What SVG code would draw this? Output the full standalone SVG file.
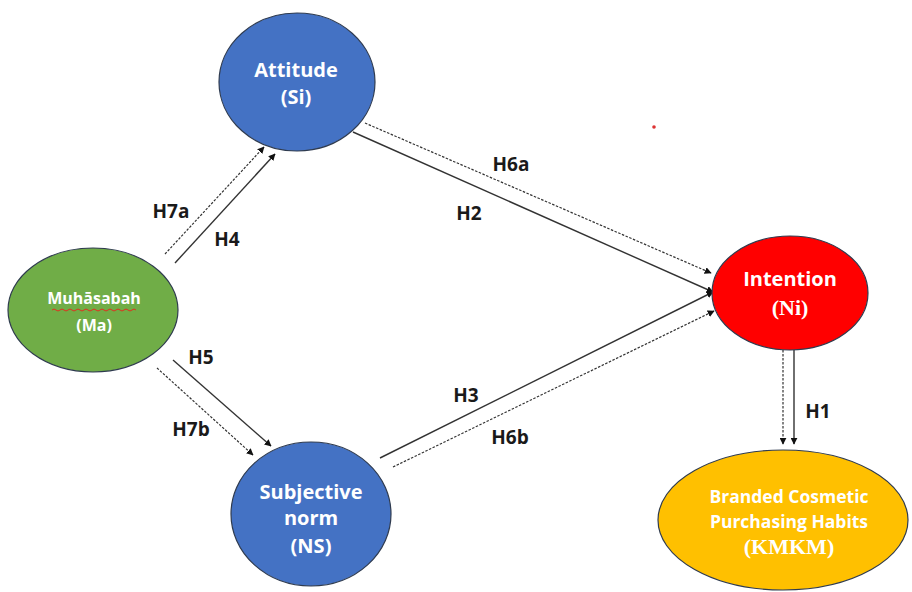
<svg xmlns="http://www.w3.org/2000/svg" width="912" height="592" viewBox="0 0 912 592">
<defs>
<marker id="ah" viewBox="0 0 10 10" refX="9" refY="5" markerWidth="7" markerHeight="7" markerUnits="userSpaceOnUse" orient="auto">
<path d="M0,0 L10,5 L0,10 z" fill="#111"/>
</marker>
</defs>
<style>
.node{stroke:#2f3b4f;stroke-width:1.2}
.nt{font-family:"Open Sans","Liberation Sans",sans-serif;font-weight:bold;fill:#fff;text-anchor:middle}
.nts{font-family:"Liberation Serif",serif;font-weight:bold;fill:#fff;text-anchor:middle}
.lbl{font-family:"Open Sans","Liberation Sans",sans-serif;font-weight:bold;font-size:19px;fill:#1a1a1a;text-anchor:middle}
.solid{stroke:#333;stroke-width:1.4;fill:none;marker-end:url(#ah)}
.dash{stroke:#333;stroke-width:1.2;fill:none;stroke-dasharray:2.5 1.5;marker-end:url(#ah)}
</style>
<rect width="912" height="592" fill="#fff"/>
<g id="connectors">
<line class="dash" x1="165" y1="254" x2="264" y2="147"/>
<line class="solid" x1="175" y1="263" x2="275" y2="154"/>
<line class="solid" x1="173" y1="360" x2="271" y2="446"/>
<line class="dash" x1="157" y1="368" x2="253" y2="455"/>
<line class="dash" x1="365" y1="123" x2="711" y2="273"/>
<line class="solid" x1="353" y1="132" x2="713" y2="292"/>
<line class="solid" x1="380" y1="458" x2="713" y2="292"/>
<line class="dash" x1="393" y1="467" x2="714" y2="311"/>
<line class="dash" x1="783" y1="350" x2="783" y2="444"/>
<line class="solid" x1="794" y1="350" x2="794" y2="444"/>
<text class="lbl" x="171" y="218">H7a</text>
<text class="lbl" x="227" y="246">H4</text>
<text class="lbl" x="201" y="364">H5</text>
<text class="lbl" x="191" y="436">H7b</text>
<text class="lbl" x="511" y="171">H6a</text>
<text class="lbl" x="469" y="220">H2</text>
<text class="lbl" x="466" y="402">H3</text>
<text class="lbl" x="510" y="444">H6b</text>
<text class="lbl" x="818" y="418">H1</text>
</g>
<g id="attitude">
<ellipse class="node" cx="297" cy="82" rx="78" ry="69" fill="#4472C4"/>
<text class="nt" x="296" y="77" font-size="20">Attitude</text>
<text class="nt" x="296" y="104" font-size="20">(Si)</text>
</g>
<g id="muhasabah">
<ellipse class="node" cx="93" cy="310" rx="85" ry="62" fill="#70AD47"/>
<text class="nt" x="94" y="304" font-size="16">Muhāsabah</text>
<path d="M52,310 q2,-2 4,0 t4,0 t4,0 t4,0 t4,0 t4,0 t4,0 t4,0 t4,0 t4,0 t4,0 t4,0 t4,0 t4,0 t4,0 t4,0 t4,0 t4,0 t4,0 t4,0 t4,0" fill="none" stroke="#e03020" stroke-width="1"/>
<text class="nt" x="94" y="331" font-size="16">(Ma)</text>
</g>
<g id="subjective">
<ellipse class="node" cx="311" cy="514" rx="80" ry="72" fill="#4472C4"/>
<text class="nt" x="311" y="499" font-size="20">Subjective</text>
<text class="nt" x="311" y="525" font-size="20">norm</text>
<text class="nt" x="311" y="553" font-size="20">(NS)</text>
</g>
<g id="intention">
<ellipse class="node" cx="790" cy="293" rx="78" ry="57" fill="#FF0000"/>
<text class="nt" x="790" y="286" font-size="20">Intention</text>
<text class="nts" x="790" y="315" font-size="22">(Ni)</text>
</g>
<g id="branded">
<ellipse class="node" cx="783" cy="520" rx="125" ry="70" fill="#FFC000"/>
<text class="nt" x="789" y="503" font-size="17.5">Branded Cosmetic</text>
<text class="nt" x="789" y="528" font-size="17.5">Purchasing Habits</text>
<text class="nts" x="789" y="554" font-size="22">(KMKM)</text>
</g>
<circle cx="654" cy="127" r="1.8" fill="#d33"/>
</svg>
